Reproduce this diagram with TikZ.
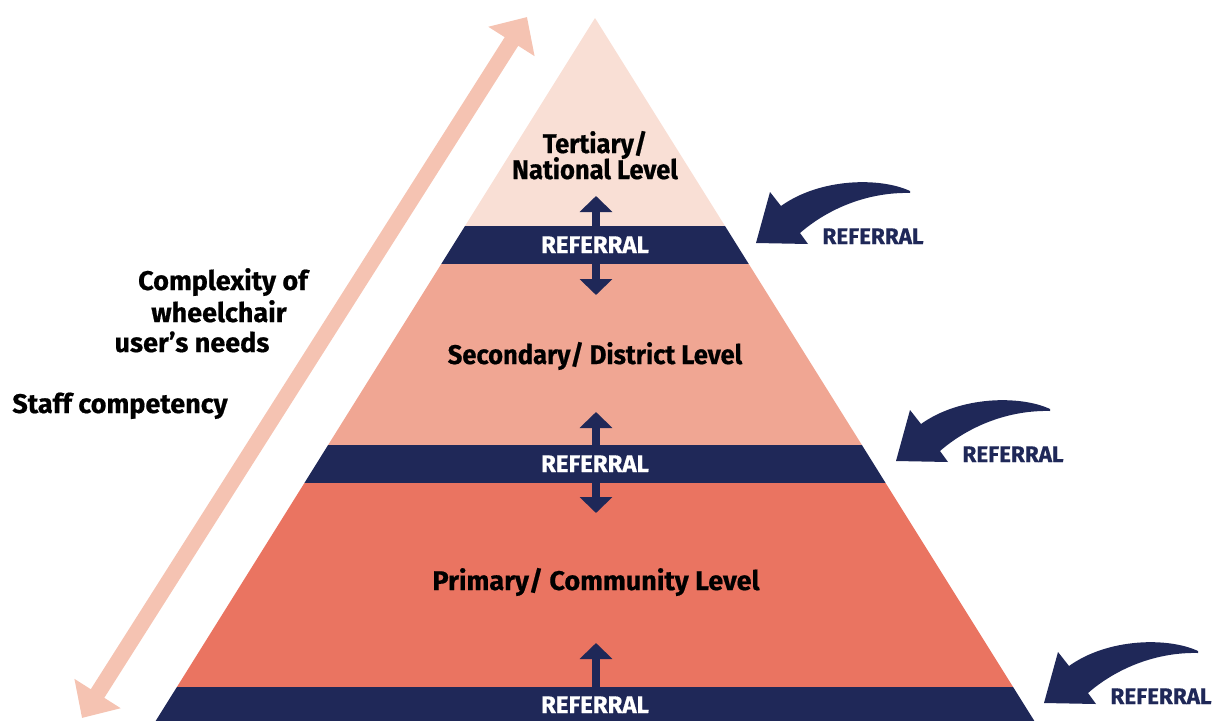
\documentclass[tikz,border=0pt]{standalone}
\usepackage{fontspec}
\setmainfont{Fira Sans}
\newfontfamily\widefont{Fira Sans}[BoldFeatures={FakeBold=0.6}]
\newfontfamily\narrowfont{Fira Sans}[FakeStretch=0.945, BoldFeatures={FakeBold=0.6}]
\usetikzlibrary{arrows.meta}
\definecolor{navy}{HTML}{1F2858}
\definecolor{tert}{HTML}{F9DFD5}
\definecolor{seco}{HTML}{F0A693}
\definecolor{prim}{HTML}{EA7461}
\definecolor{pinkarrow}{HTML}{F5C3B2}
\begin{document}
\begin{tikzpicture}[x=1pt,y=-1pt,
  lvl/.style={font=\narrowfont\fontsize{27}{30}\selectfont\bfseries, text=black, inner sep=0pt, anchor=base},
  lvlw/.style={font=\widefont\fontsize{27}{30}\selectfont\bfseries, text=black, inner sep=0pt, anchor=base},
  bandtxt/.style={font=\widefont\fontsize{24}{26}\selectfont\bfseries, text=white, inner sep=0pt, anchor=base},
  reftxt/.style={font=\widefont\fontsize{22.5}{25}\selectfont\bfseries, text=navy, inner sep=0pt, anchor=base},
  dbl/.style={navy, line width=8pt, {Triangle[width=32pt,length=16pt]}-{Triangle[width=32pt,length=16pt]}},
  sgl/.style={navy, line width=8pt, -{Triangle[width=32pt,length=16pt]}},
  bigarrow/.style={pinkarrow, line width=16pt, {Triangle[width=53pt,length=29pt]}-{Triangle[width=53pt,length=29pt]}},
  curved/.style={fill=navy, draw=none}]
\useasboundingbox (0,0) rectangle (1212,720);
\clip (0,0) rectangle (1212,720);
% pyramid layers
\fill[tert] (595,18) -- (725,226) -- (465,226) -- cycle;
\fill[navy] (465,226) -- (725,226) -- (748.75,264) -- (441.25,264) -- cycle;
\fill[seco] (441.25,264) -- (748.75,264) -- (861.9,445) -- (328.1,445) -- cycle;
\fill[navy] (328.1,445) -- (861.9,445) -- (885.6,483) -- (304.4,483) -- cycle;
\fill[prim] (304.4,483) -- (885.6,483) -- (1013.1,687) -- (176.9,687) -- cycle;
\fill[navy] (176.9,687) -- (1013.1,687) -- (1040,730) -- (150,730) -- cycle;
% double arrows
\coordinate (a1t) at (596,196); \coordinate (a1b) at (596,295);
\coordinate (a2t) at (596,412); \coordinate (a2b) at (596,513);
\coordinate (a3t) at (596,643); \coordinate (a3b) at (596,700);
\draw[dbl] (a1t) -- (a1b);
\draw[dbl] (a2t) -- (a2b);
\draw[sgl] (a3b) -- (a3t);
% level texts
\node[lvl] (t1) at (595,153) {Tertiary/};
\node[lvl] (t2) at (595,179) {National Level};
\node[lvl] (sec) at (595,364) {Secondary/ District Level};
\node[lvlw] (pri) at (596,590) {Primary/ Community Level};
% band texts
\node[bandtxt] (b1) at (595,253) {REFERRAL};
\node[bandtxt] (b2) at (595,472) {REFERRAL};
\node[bandtxt] (b3) at (595,713) {REFERRAL};
% side texts
\node[lvlw] (c1) at (223,290) {Complexity of};
\node[lvlw] (c2) at (219,322) {wheelchair};
\node[lvlw] (c3) at (192,352) {user’s needs};
\node[lvlw] (st) at (120,413) {Staff competency};
% diagonal arrow
\coordinate (dlo) at (82,718); \coordinate (dhi) at (527,17);
\draw[bigarrow] (dlo) -- (dhi);
% curved referral arrows
\foreach \dx/\dy/\n in {0/0/1,140/218/2,288/460/3}{
  \begin{scope}[shift={(\dx,\dy)}]
    \fill[curved] (910,191) .. controls (880,177) and (820,178) .. (781,206)
      -- (770,192) -- (756,243) -- (808,244) -- (800,233)
      .. controls (830,207) and (870,192) .. (910,193) -- cycle;
    \node[reftxt] (r\n) at (873,244) {REFERRAL};
  \end{scope}
}
\end{tikzpicture}
\end{document}
